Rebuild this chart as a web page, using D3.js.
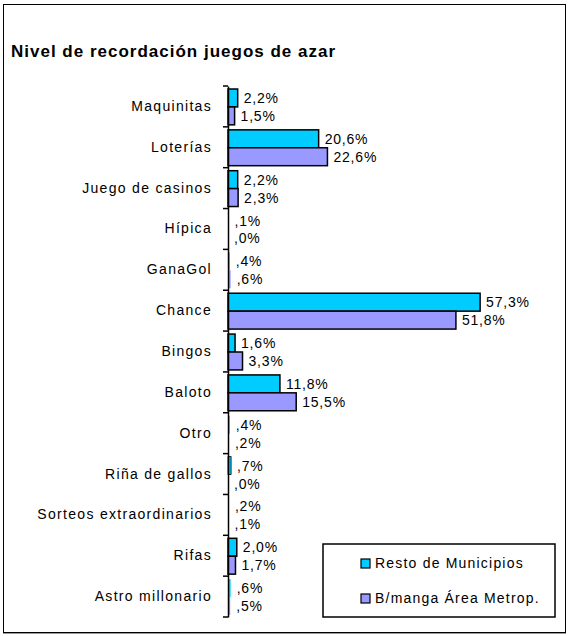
<!DOCTYPE html>
<html>
<head>
<meta charset="utf-8">
<script src="https://cdn.jsdelivr.net/npm/d3@7"></script>
<style>
  body { margin: 0; background: #fff; }
  svg text { font-family: "Liberation Sans", Arial, sans-serif; fill: #000; }
</style>
</head>
<body>
<div id="chart"></div>
<script>
const categories = ["Maquinitas", "Loterías", "Juego de casinos", "Hípica", "GanaGol", "Chance", "Bingos",
    "Baloto", "Otro", "Riña de gallos", "Sorteos extraordinarios", "Rifas", "Astro millonario"];
const seriesNames = ["Resto de Municipios", "B/manga Área Metrop."];
const resto = [2.2, 20.6, 2.2, 0.1, 0.4, 57.3, 1.6, 11.8, 0.4, 0.7, 0.2, 2.0, 0.6];
const bmanga = [1.5, 22.6, 2.3, 0.0, 0.6, 51.8, 3.3, 15.5, 0.2, 0.0, 0.1, 1.7, 0.5];
const colors = ["#00CCFF", "#9999FF"];

const W = 568, H = 636;
const svg = d3.select("#chart").append("svg").attr("width", W).attr("height", H);

// outer frame
svg.append("rect").attr("x", 3.5).attr("y", 4.5).attr("width", 562).attr("height", 628)
    .attr("fill", "#fff").attr("stroke", "#000").attr("stroke-width", 1);
svg.append("line").attr("x1", 3).attr("x2", 566).attr("y1", 633.5).attr("y2", 633.5)
    .attr("stroke", "#999");

svg.append("text").attr("x", 11).attr("y", 57)
    .attr("font-size", 17).attr("font-weight", "bold").attr("letter-spacing", 1)
    .text("Nivel de recordación juegos de azar");

const x = d3.scaleLinear().domain([0, 70]).range([228, 536]);
const y = d3.scaleBand().domain(categories).range([86, 617]);
const sub = d3.scaleBand().domain([0, 1]).range([3, y.bandwidth() - 2]);

const fmt = v => {
    const s = v.toFixed(1).replace(".", ",");
    return (v < 1 ? s.replace(/^0/, "") : s) + "%";
};

const g = svg.append("g");
[resto, bmanga].forEach((vals, si) => {
    g.selectAll(".bar" + si).data(categories).enter().append("rect")
        .attr("x", x(0))
        .attr("y", (c, i) => y(c) + sub(si))
        .attr("width", (c, i) => x(vals[i]) - x(0))
        .attr("height", sub.bandwidth())
        .attr("fill", colors[si])
        .attr("stroke", "#000")
        .attr("stroke-width", (c, i) => vals[i] < 0.65 ? 0 : (vals[i] < 1 ? 0.8 : 1.5));
    g.selectAll(".lab" + si).data(categories).enter().append("text")
        .attr("x", (c, i) => x(vals[i]) + 6)
        .attr("y", (c, i) => y(c) + sub(si) + sub.bandwidth() / 2 + 5)
        .attr("font-size", 14).attr("letter-spacing", 0.8)
        .text((c, i) => fmt(vals[i]));
});

// category axis
const axis = svg.append("g").attr("transform", `translate(${x(0)},0)`)
    .call(d3.axisLeft(y).tickSize(0).tickPadding(16));
axis.select(".domain").attr("stroke", "#000").attr("stroke-width", 1.5);
axis.selectAll("text").attr("font-size", 14).attr("letter-spacing", 1.3)
    .attr("font-family", "Liberation Sans, Arial, sans-serif");
svg.append("g").selectAll("line").data(categories.concat(["end"])).enter().append("line")
    .attr("x1", x(0) - 5).attr("x2", x(0))
    .attr("y1", (c, i) => 86 + i * y.step())
    .attr("y2", (c, i) => 86 + i * y.step())
    .attr("stroke", "#000").attr("stroke-width", 1.5);

// legend
const lg = svg.append("g");
lg.append("rect").attr("x", 323).attr("y", 544).attr("width", 232).attr("height", 73)
    .attr("fill", "#fff").attr("stroke", "#000").attr("stroke-width", 1.5);
seriesNames.forEach((name, i) => {
    lg.append("rect").attr("x", 361).attr("y", 559 + i * 35).attr("width", 9).attr("height", 9)
        .attr("fill", colors[i]).attr("stroke", "#000").attr("stroke-width", 1.2);
    lg.append("text").attr("x", 375).attr("y", 568 + i * 35).attr("font-size", 14)
        .attr("letter-spacing", 1.2).text(name);
});
</script>
</body>
</html>
